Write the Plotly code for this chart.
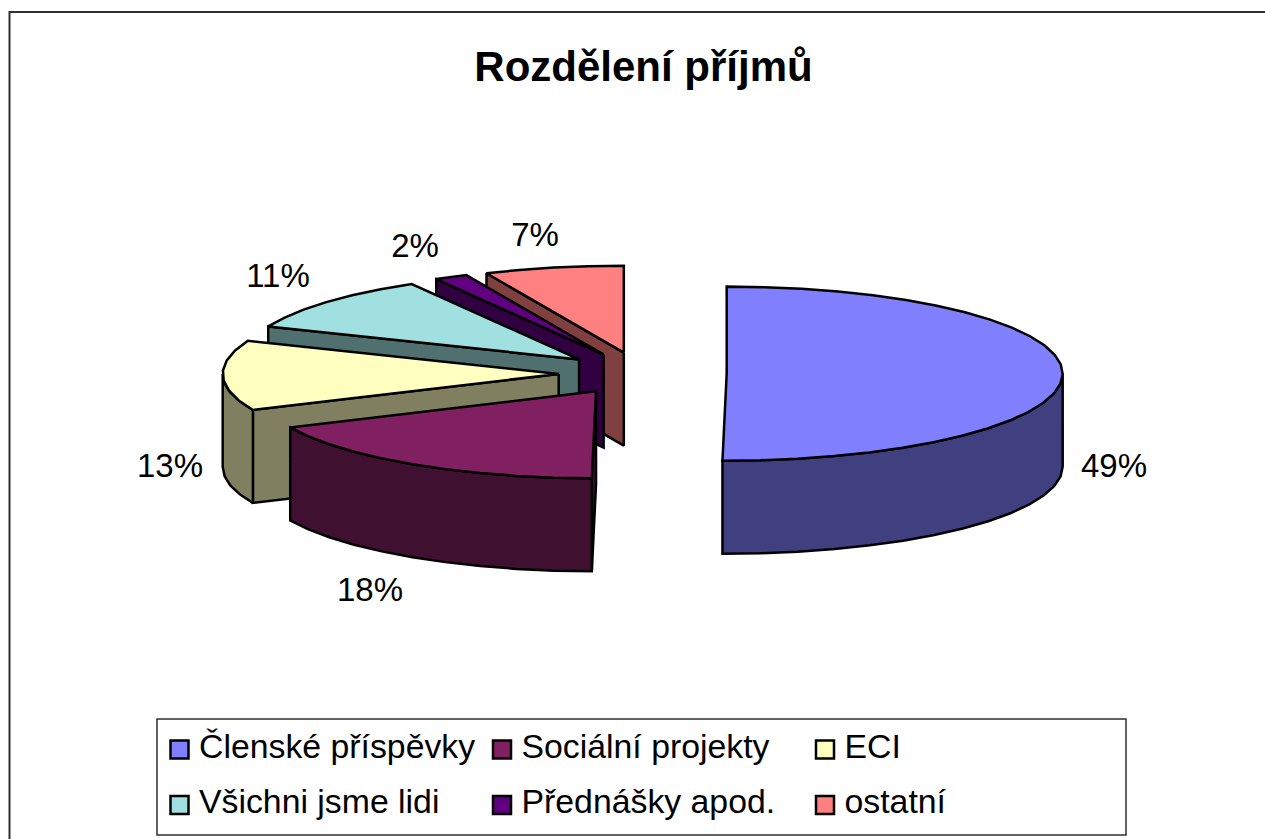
import numpy as np
import plotly.graph_objects as go

# ---- data ----
categories = ["Členské příspěvky", "Sociální projekty", "ECI",
              "Všichni jsme lidi", "Přednášky apod.", "ostatní"]
percent_labels = ["49%", "18%", "13%", "11%", "2%", "7%"]
# share of the circle each drawn slice actually sweeps, measured on the picture
slice_shares = [50.2, 18.0, 13.0, 10.5, 1.6, 6.7]

# ---- styles ----
top_colors = ["#8080FF", "#802060", "#FFFFC0", "#A0E0E0", "#600080", "#FF8080"]
wall_colors = ["#404080", "#401030", "#808060", "#507070", "#300040", "#804040"]
FONT = "Liberation Sans, Arial, sans-serif"
W, H = 1265, 839

# ---- pie geometry ----
CX, CY, RX, RY, DEPTH = 641, 373.5, 336, 87, 93
slice_pull = [0.255, 0.245, 0.245, 0.245, 0.245, 0.245]
ARC_STEP = 6.5
draw_order = [5, 4, 3, 2, 1, 0]
label_x = [1114, 370, 170, 278, 415, 535]
label_y = [468.5, 592.5, 468.5, 278.5, 248.5, 237.5]

# ---- legend geometry ----
legend_box = (157, 719, 1126, 835)
legend_cols = [179.5, 502, 825]
legend_rows = [749.5, 805]
legend_text_rows = [749.5, 804.5]
legend_text_offset = 19.5

fig = go.Figure()


def poly(xs, ys, fill):
    fig.add_trace(go.Scatter(
        x=list(xs) + [xs[0]], y=list(ys) + [ys[0]], mode="lines", fill="toself",
        fillcolor=fill, line=dict(color="#000000", width=2.5),
        hoverinfo="skip", showlegend=False))


def rim(t1, t2, ax, ay):
    n = max(2, int(round((t2 - t1) / ARC_STEP)) + 1)
    t = np.radians(np.linspace(t1, t2, n))
    return ax + RX * np.sin(t), ay - RY * np.cos(t)


edges = np.concatenate([[0], np.cumsum(slice_shares)]) / sum(slice_shares) * 360
for i in draw_order:
    t1, t2 = edges[i], edges[i + 1]
    mid = np.radians((t1 + t2) / 2)
    ax = CX + slice_pull[i] * RX * np.sin(mid)
    ay = CY - slice_pull[i] * RY * np.cos(mid)
    rx_pts, ry_pts = rim(t1, t2, ax, ay)
    # radial walls that face the viewer
    if np.sin(np.radians(t1)) < -1e-6:
        poly([ax, rx_pts[0], rx_pts[0], ax],
             [ay, ry_pts[0], ry_pts[0] + DEPTH, ay + DEPTH], wall_colors[i])
    if np.sin(np.radians(t2)) > 1e-6:
        poly([ax, rx_pts[-1], rx_pts[-1], ax],
             [ay, ry_pts[-1], ry_pts[-1] + DEPTH, ay + DEPTH], wall_colors[i])
    # outer rim wall (front half only)
    lo, hi = max(t1, 90), min(t2, 270)
    if hi > lo:
        wx, wy = rim(lo, hi, ax, ay)
        poly(list(wx) + list(wx[::-1]), list(wy) + list((wy + DEPTH)[::-1]), wall_colors[i])
    # top face
    poly([ax] + list(rx_pts), [ay] + list(ry_pts), top_colors[i])

# percent labels
fig.add_trace(go.Scatter(
    x=label_x, y=label_y, mode="text", text=percent_labels,
    textposition="middle center",
    textfont=dict(family=FONT, size=33, color="#000000"),
    hoverinfo="skip", showlegend=False))

# legend entries
for k, name in enumerate(categories):
    col, row = k % 3, k // 3
    fig.add_trace(go.Scatter(
        x=[legend_cols[col]], y=[legend_rows[row]], mode="markers",
        marker=dict(symbol="square", size=18, color=top_colors[k],
                    line=dict(color="#000000", width=2.5)),
        hoverinfo="skip", showlegend=False))
    fig.add_trace(go.Scatter(
        x=[legend_cols[col] + legend_text_offset], y=[legend_text_rows[row]], mode="text",
        text=[name], textposition="middle right",
        textfont=dict(family=FONT, size=33.8, color="#000000"),
        hoverinfo="skip", showlegend=False, cliponaxis=False))

fig.update_layout(
    width=W, height=H, margin=dict(l=0, r=0, t=0, b=0),
    paper_bgcolor="#FFFFFF", plot_bgcolor="#FFFFFF",
    xaxis=dict(range=[0, W], visible=False, fixedrange=True),
    yaxis=dict(range=[H, 0], visible=False, fixedrange=True),
    title=dict(text="<b>Rozdělení příjmů</b>", x=643.5 / W, xanchor="center",
               y=1 - 66 / H, yanchor="middle",
               font=dict(family=FONT, size=42, color="#000000")),
    shapes=[
        dict(type="rect", x0=9.5, y0=12, x1=W + 20, y1=H + 20,
             line=dict(color="#303030", width=2), layer="below"),
        dict(type="rect", x0=legend_box[0], y0=legend_box[1], x1=legend_box[2], y1=legend_box[3],
             line=dict(color="#303030", width=1.5), layer="below"),
    ],
)
fig.write_html("out.html", config=dict(displayModeBar=False),
               post_script="document.body.style.margin='0';document.body.style.overflow='hidden';")
